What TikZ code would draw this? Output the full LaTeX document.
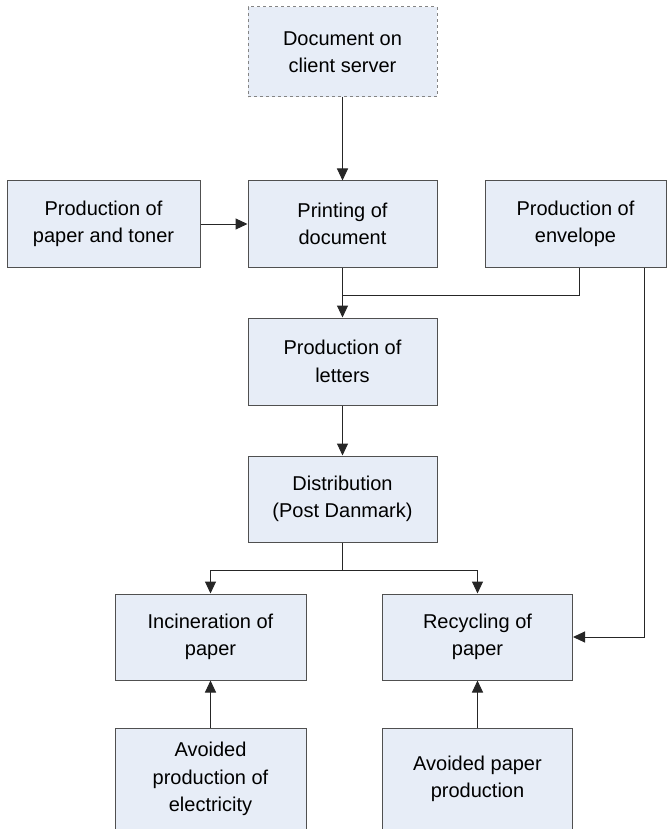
\documentclass[tikz,border=0pt]{standalone}
\usepackage{fontspec}
\setmainfont{Liberation Sans}
\usetikzlibrary{arrows.meta,calc}
\definecolor{boxfill}{HTML}{E7EDF7}
\definecolor{boxdraw}{HTML}{505050}
\begin{document}
\begin{tikzpicture}[x=1pt,y=1pt,
  box/.style={draw=boxdraw,fill=boxfill,line width=1pt,minimum width=190pt,minimum height=86pt,
    align=center,font=\fontsize{20}{27.5}\selectfont,inner sep=2pt},
  arr/.style={-{Triangle[length=12pt,width=11pt]},line width=1pt,draw=black!85},
  ln/.style={line width=1pt,draw=black!85}]
\useasboundingbox (0,0) rectangle (668,-829);
\node[box,draw=boxdraw!70,dashed,minimum width=189pt,minimum height=90pt] (doc) at (342.5,-52) {Document on\\client server};
\node[box,minimum width=193pt] (paper) at (103.5,-224) {Production of\\paper and toner};
\node[box,minimum width=189pt] (print) at (342.5,-224) {Printing of\\document};
\node[box,minimum width=181pt] (env) at (575.5,-224) {Production of\\envelope};
\node[box,minimum width=189pt,minimum height=87pt] (letters) at (342.5,-361.5) {Production of\\letters};
\node[box,minimum width=189pt] (dist) at (342.5,-499) {Distribution\\(Post Danmark)};
\node[box,minimum width=191pt] (incin) at (210.5,-637) {Incineration of\\paper};
\node[box,minimum width=190pt] (recyc) at (477.5,-637) {Recycling of\\paper};
\node[box,minimum width=191pt,minimum height=102pt] (avE) at (210.5,-779) {Avoided\\production of\\electricity};
\node[box,minimum width=190pt,minimum height=102pt] (avP) at (477.5,-779) {Avoided paper\\production};
\coordinate (e1) at ([xshift=4pt]env.south);
\coordinate (e2) at ([xshift=69pt]env.south);
\coordinate (j1) at (342.5,-295);
\coordinate (j2) at (342.5,-570);
\draw[arr] (doc) -- (print);
\draw[arr] (paper) -- (print);
\draw[arr] (print) -- (letters);
\draw[ln] (e1) |- (j1);
\draw[arr] (e2) |- (recyc.east);
\draw[arr] (letters) -- (dist);
\draw[ln] (dist.south) -- (j2);
\draw[arr] (j2) -| (incin.north);
\draw[arr] (j2) -| (recyc.north);
\draw[arr] (avE) -- (incin);
\draw[arr] (avP) -- (recyc);
\end{tikzpicture}
\end{document}
